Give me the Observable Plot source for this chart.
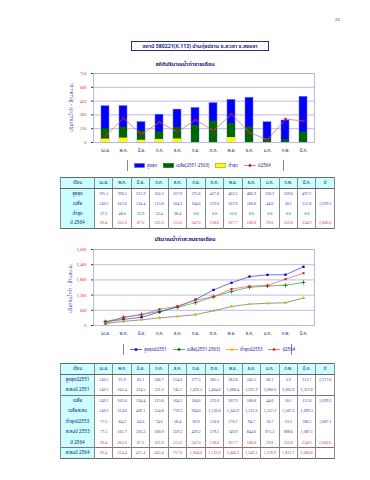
<!DOCTYPE html>
<html>
<head>
<meta charset="utf-8">
<script src="https://cdn.jsdelivr.net/npm/d3@7"></script>
<script src="https://cdn.jsdelivr.net/npm/@observablehq/plot@0.6"></script>
<style>
  html, body { margin: 0; padding: 0; background: #fff; }
  body { width: 370px; height: 480px; position: relative; overflow: hidden;
         font-family: "Noto Sans Thai", Tahoma, "DejaVu Sans", "Noto Sans", sans-serif; color: #2b2b8f; }
  .abs { position: absolute; }
  #pageno { left: 335px; top: 17px; font: 5px "Liberation Serif", serif; color: #333; }
  #title { left: 131px; top: 41px; width: 136px; height: 8px; border: 1px solid #2b2b8f;
           font-size: 5.2px; font-weight: bold; text-align: center; line-height: 8px; white-space: nowrap; }
  .ctitle { left: 0; width: 370px; text-align: center; font-size: 5.4px; font-weight: bold; color: #1a1a80; white-space: nowrap; }
  .ylab { font-size: 5px; color: #3a3aa8; transform: rotate(-90deg); transform-origin: center; white-space: nowrap; text-align: center; width: 70px; }
  .chart svg { display: block; }
  .chart g[aria-label^="y-axis"] text { fill: #d03030; font-family: "Liberation Serif", serif; }
  .chart g[aria-label^="x-axis"] text { fill: #2b2b8f; }
  .legend { display: flex; align-items: center; border-left: 1px solid #888; border-right: 1px solid #888;
            height: 11px; font-size: 4.4px; color: #2b2b8f; white-space: nowrap; padding: 0 6px; box-sizing: border-box; }
  .legend span.item { display: inline-flex; align-items: center; margin-right: 6px; }
  .legend span.item:last-child { margin-right: 0; }
  .legend svg { margin-right: 2px; }
  table { border-collapse: collapse; table-layout: fixed; position: absolute; border: 1px solid #666; }
  td, th { border-left: 0.6px solid #8a8a8a; border-right: 0.6px solid #8a8a8a; border-top: none; border-bottom: none;
           padding: 0; text-align: center; font-size: 4.1px; font-weight: normal;
           white-space: nowrap; overflow: hidden; color: #3a3aa8; font-family: "Liberation Serif", serif; }
  th { background: #ccffff; font-size: 4.4px; color: #1a1a80; border-bottom: 1px solid #666; font-family: "Noto Sans Thai", Tahoma, sans-serif; }
  td.lab { background: #ccffff; font-size: 4.6px; color: #1a1a80; font-family: "Noto Sans Thai", Tahoma, sans-serif; }
  td.red { color: #e03030; }
  tr.sep td { border-top: 0.8px solid #777; }
</style>
</head>
<body>
<div id="pageno" class="abs">25</div>
<div id="title" class="abs">สถานี 580221(X.113) บ้านทุ่งปราน อ.สะเดา จ.สงขลา</div>

<div class="abs ctitle" style="top:60px">สถิติปริมาณน้ำท่ารายเดือน</div>
<div class="abs ylab" style="left:36px; top:104px">ปริมาณน้ำท่า - ล้านลบ.ม.</div>
<div id="c1" class="abs chart" style="left:0; top:68px"></div>
<div id="leg1" class="abs legend" style="left:127px; top:160px; width:157px"></div>
<div id="t1wrap"></div>

<div class="abs ctitle" style="top:235px">ปริมาณน้ำท่าสะสมรายเดือน</div>
<div class="abs ylab" style="left:35px; top:285px">ปริมาณน้ำท่า - ล้านลบ.ม.</div>
<div id="c2" class="abs chart" style="left:0; top:244px"></div>
<div id="leg2" class="abs legend" style="left:123px; top:344px; width:169px"></div>
<div id="t2wrap"></div>

<script>
// ---------------- data ----------------
const months = ["เม.ย.","พ.ค.","มิ.ย.","ก.ค.","ส.ค.","ก.ย.","ต.ค.","พ.ย.","ธ.ค.","ม.ค.","ก.พ.","มี.ค."];

// monthly runoff statistics (million m3)
const maxMonthly  = [395.1, 396.5, 221.9, 302.2, 357.9, 375.6, 427.8, 463.5, 486.9, 220.2, 239.6, 497.2];
const meanMonthly = [149.2, 165.6, 124.4, 115.8, 164.3, 184.6, 232.0, 207.9, 168.8, 44.6, 30.1, 112.8];
const minMonthly  = [37.3, 48.0, 23.9, 33.4, 38.4, 0.0, 0.0, 53.6, 0.0, 0.0, 0.0, 0.0];
const y2564       = [69.4, 265.0, 87.0, 222.0, 113.6, 247.0, 128.6, 307.7, 108.8, 29.8, 252.8, 234.9];

// year totals
const meanTotal = 1699.3;
const y2564Total = 2066.6;

// accumulated runoff
const max2551 = [149.5, 91.9, 83.1, 206.7, 214.0, 277.3, 382.1, 283.8, 243.5, 68.1, 3.9, 313.7];
const max2551Cum = [149.5, 241.4, 324.5, 531.2, 745.2, 1022.5, 1404.6, 1688.4, 1931.9, 2000.0, 2003.9, 2317.6];
const max2551Total = 2317.6;
const meanCum = [149.2, 314.8, 439.1, 554.8, 719.2, 904.0, 1136.0, 1343.9, 1512.6, 1557.2, 1587.3, 1699.3];
const min2553 = [77.5, 84.2, 64.6, 74.6, 58.4, 69.9, 150.0, 170.7, 94.7, 30.7, 23.3, 188.5];
const min2553Cum = [77.5, 161.7, 226.3, 300.9, 359.3, 429.2, 579.2, 749.9, 844.6, 875.3, 898.6, 1087.1];
const min2553Total = 1087.1;
const y2564Cum = [69.4, 334.4, 421.4, 643.4, 757.0, 1004.0, 1132.6, 1440.3, 1549.1, 1578.9, 1831.7, 2066.6];

const y1Ticks = [0, 150, 300, 450, 600, 750];
const y2Ticks = [0, 600, 1200, 1800, 2400, 3000];

// legends
const legend1 = [
  {label: "สูงสุด", kind: "rect", color: "#0000ff", stroke: "#6060ff"},
  {label: "เฉลี่ย(2551-2563)", kind: "rect", color: "#006600", stroke: "#006600"},
  {label: "ต่ำสุด", kind: "rect", color: "#ffff00", stroke: "#999900"},
  {label: "ปี2564", kind: "line", color: "#e06060", marker: "#cc0044"}
];
const legend2 = [
  {label: "สูงสุดปี2551", kind: "line", color: "#3333cc", marker: "#0000cc"},
  {label: "เฉลี่ย(2551-2563)", kind: "line", color: "#339933", marker: "#006600"},
  {label: "ต่ำสุดปี2553", kind: "line", color: "#e0b000", marker: "#f0b000"},
  {label: "ปี2564", kind: "line", color: "#e06060", marker: "#dd2222"}
];

// ---------------- chart 1 ----------------
const fmt = d3.format(",");
const rows1 = months.map((m, i) => ({m, max: maxMonthly[i], mean: meanMonthly[i], min: minMonthly[i], y: y2564[i]}));
const fontFam = '"Noto Sans Thai", Tahoma, "DejaVu Sans", sans-serif';

const c1 = Plot.plot({
  width: 370, height: 90,
  marginTop: 5, marginBottom: 16, marginLeft: 93, marginRight: 56,
  style: {fontSize: "4.4px", fontFamily: fontFam, background: "transparent", overflow: "visible"},
  x: {type: "band", domain: months, paddingInner: 0.56, paddingOuter: 0.28, label: null, tickSize: 0, tickPadding: 6},
  y: {domain: [0, 750], ticks: y1Ticks, tickFormat: fmt, label: null, tickSize: 2, tickPadding: 5},
  marks: [
    Plot.ruleY(y1Ticks.slice(1), {stroke: "#a8a8e0", strokeWidth: 0.8}),
    Plot.barY(rows1, {x: "m", y: "max", fill: "#0000ff", stroke: "#7070ff", strokeWidth: 0.5}),
    Plot.barY(rows1, {x: "m", y: "mean", fill: "#006600"}),
    Plot.barY(rows1, {x: "m", y: "min", fill: "#ffff00"}),
    Plot.line(rows1, {x: "m", y: "y", stroke: "#e06060", strokeWidth: 0.7}),
    Plot.dot(rows1, {x: "m", y: "y", fill: "#cc0044", r: 1.4, symbol: "star"}),
    Plot.frame({stroke: "#a8a8e0", strokeWidth: 0.8})
  ]
});
document.getElementById("c1").append(c1);

// ---------------- chart 2 ----------------
const series2 = [
  {key: "max", vals: max2551Cum, stroke: "#3333cc", fill: "#0000cc", symbol: "square", r: 1.3},
  {key: "mean", vals: meanCum, stroke: "#339933", fill: "#006600", symbol: "plus", r: 1.5},
  {key: "min", vals: min2553Cum, stroke: "#6b6b55", fill: "#f0b000", symbol: "triangle", r: 1.3},
  {key: "y2564", vals: y2564Cum, stroke: "#e06060", fill: "#dd2222", symbol: "square", r: 1.2}
];
const marks2 = [Plot.ruleY(y2Ticks.slice(1), {stroke: "#a8a8e0", strokeWidth: 0.8})];
for (const s of series2) {
  const d = months.map((m, i) => ({m, v: s.vals[i]}));
  marks2.push(Plot.line(d, {x: "m", y: "v", stroke: s.stroke, strokeWidth: 0.7}));
  if (s.symbol === "plus") {
    marks2.push(Plot.dot(d, {x: "m", y: "v", stroke: s.fill, strokeWidth: 0.7, r: s.r, symbol: "plus"}));
  } else {
    marks2.push(Plot.dot(d, {x: "m", y: "v", fill: s.fill, r: s.r, symbol: s.symbol}));
  }
}
marks2.push(Plot.frame({stroke: "#a8a8e0", strokeWidth: 0.8}));

const c2 = Plot.plot({
  width: 370, height: 95,
  marginTop: 5, marginBottom: 14, marginLeft: 93, marginRight: 56,
  style: {fontSize: "4.4px", fontFamily: fontFam, background: "transparent", overflow: "visible"},
  x: {type: "point", domain: months, padding: 0.5, label: null, tickSize: 0, tickPadding: 6},
  y: {domain: [0, 3000], ticks: y2Ticks, tickFormat: fmt, label: null, tickSize: 2, tickPadding: 5},
  marks: marks2
});
document.getElementById("c2").append(c2);

// ---------------- legends ----------------
function buildLegend(el, items) {
  for (const it of items) {
    const span = document.createElement("span");
    span.className = "item";
    let sw;
    if (it.kind === "rect") {
      sw = `<svg width="11" height="5"><rect x="0.5" y="0.5" width="10" height="4" fill="${it.color}" stroke="${it.stroke}" stroke-width="0.6"/></svg>`;
    } else {
      sw = `<svg width="12" height="5"><line x1="0" y1="2.5" x2="12" y2="2.5" stroke="${it.color}" stroke-width="0.8"/><rect x="4.8" y="1.3" width="2.4" height="2.4" fill="${it.marker}"/></svg>`;
    }
    span.innerHTML = sw + `<span>${it.label}</span>`;
    el.append(span);
  }
}
buildLegend(document.getElementById("leg1"), legend1);
buildLegend(document.getElementById("leg2"), legend2);

// ---------------- tables ----------------
const f1 = d3.format(",.1f");
function buildTable(wrapId, left, top, rowH, headH, rows) {
  const t = document.createElement("table");
  t.style.left = left + "px"; t.style.top = top + "px"; t.style.width = "274px";
  let html = `<colgroup><col style="width:34px">` + months.map(() => `<col style="width:18.46px">`).join("") + `<col style="width:18.46px"></colgroup>`;
  html += `<tr style="height:${headH}px"><th>เดือน</th>` + months.map(m => `<th>${m}</th>`).join("") + `<th>ปี</th></tr>`;
  for (const r of rows) {
    const cls = r.red ? "red" : "";
    html += `<tr class="${r.sep ? "sep" : ""}" style="height:${rowH}px"><td class="lab">${r.label}</td>` +
      r.vals.map(v => `<td class="${cls}">${f1(v)}</td>`).join("") +
      `<td class="${cls}">${r.total == null ? "" : f1(r.total)}</td></tr>`;
  }
  t.innerHTML = html;
  document.getElementById(wrapId).append(t);
}
buildTable("t1wrap", 60, 177, 10, 10.5, [
  {label: "สูงสุด", vals: maxMonthly, total: null},
  {label: "เฉลี่ย", vals: meanMonthly, total: meanTotal},
  {label: "ต่ำสุด", vals: minMonthly, total: null},
  {label: "ปี 2564", vals: y2564, total: y2564Total, red: true}
]);
buildTable("t2wrap", 60, 363, 10.5, 10.5, [
  {label: "สูงสุดปี2551", vals: max2551, total: max2551Total},
  {label: "สะสมปี 2551", vals: max2551Cum, total: null},
  {label: "เฉลี่ย", vals: meanMonthly, total: meanTotal, sep: true},
  {label: "เฉลี่ยสะสม", vals: meanCum, total: null},
  {label: "ต่ำสุดปี2553", vals: min2553, total: min2553Total},
  {label: "สะสมปี 2553", vals: min2553Cum, total: null},
  {label: "ปี 2564", vals: y2564, total: y2564Total, red: true},
  {label: "สะสมปี 2564", vals: y2564Cum, total: null, red: true, sep: true}
]);
</script>
</body>
</html>
